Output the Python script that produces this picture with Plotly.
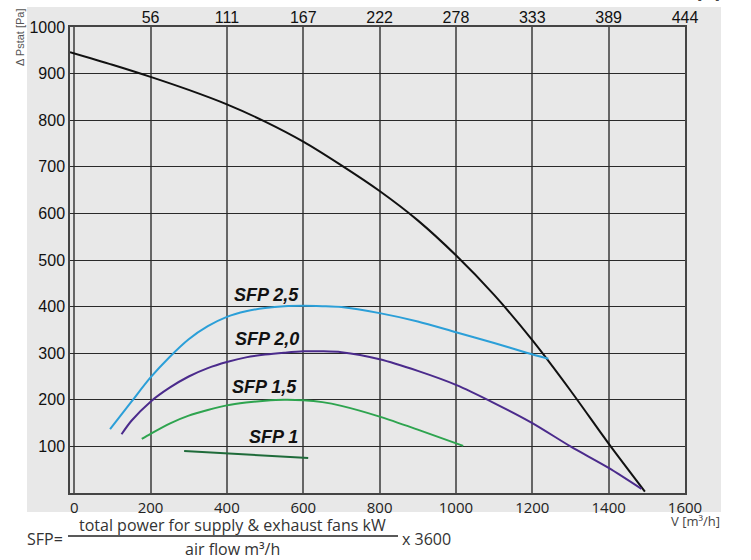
import plotly.graph_objects as go

# ---- data ----
fan_x = [-11, 100, 200, 300, 400, 500, 600, 700, 800, 900, 1000, 1100, 1200, 1300, 1400, 1495]
fan_y = [946, 919, 893, 865, 834, 797, 754, 703, 648, 585, 510, 425, 328, 220, 106, 3]

sfp25_x = [94, 150, 200, 250, 300, 350, 400, 450, 500, 550, 600, 650, 700, 800, 900, 1000, 1100, 1185, 1242]
sfp25_y = [137, 196, 248, 292, 330, 358, 378, 390, 397, 401, 402, 401, 399, 386, 368, 345, 322, 301, 288]

sfp20_x = [124, 150, 200, 250, 300, 350, 400, 450, 500, 550, 600, 650, 700, 800, 900, 1000, 1100, 1200, 1300, 1400, 1486]
sfp20_y = [126, 155, 196, 226, 250, 268, 281, 291, 297, 301, 304, 304, 302, 287, 262, 232, 193, 150, 100, 54, 9]

sfp15_x = [177, 200, 250, 300, 350, 400, 450, 500, 550, 600, 650, 700, 800, 900, 1019]
sfp15_y = [116, 127, 149, 166, 178, 188, 194, 198, 200, 199, 195, 187, 164, 136, 101]

sfp10_x = [288, 613]
sfp10_y = [90, 75]

labels = ["SFP 2,5", "SFP 2,0", "SFP 1,5", "SFP 1"]
label_x = [594, 594, 590, 592]
label_y = [425, 330, 228, 121]

x_ticks = [0, 200, 400, 600, 800, 1000, 1200, 1400, 1600]
y_ticks = [100, 200, 300, 400, 500, 600, 700, 800, 900, 1000]
top_ticks = [200, 400, 600, 800, 1000, 1200, 1400, 1600]
top_text = ["56", "111", "167", "222", "278", "333", "389", "444"]

# ---- layout geometry ----
W, H = 751, 560
ML, MR, MT, MB = 70, 66, 27, 67
PW, PH = W - ML - MR, H - MT - MB


def px(x):
    return (x - ML) / PW


def py(y):
    return (H - MB - y) / PH


GRAY = "#e8e8e8"
ARIAL = "Liberation Sans, Arial, sans-serif"
OPEN = "Open Sans, sans-serif"

fig = go.Figure()

fig.add_trace(go.Scatter(x=fan_x, y=fan_y, mode="lines", line_shape="spline",
                         line=dict(color="#111111", width=2, smoothing=0.8), hoverinfo="skip"))
fig.add_trace(go.Scatter(x=sfp25_x, y=sfp25_y, mode="lines", line_shape="spline",
                         line=dict(color="#2b9fd8", width=2, smoothing=0.8), hoverinfo="skip"))
fig.add_trace(go.Scatter(x=sfp20_x, y=sfp20_y, mode="lines", line_shape="spline",
                         line=dict(color="#4b2b8c", width=2, smoothing=0.8), hoverinfo="skip"))
fig.add_trace(go.Scatter(x=sfp15_x, y=sfp15_y, mode="lines", line_shape="spline",
                         line=dict(color="#2ea44f", width=2, smoothing=0.8), hoverinfo="skip"))
fig.add_trace(go.Scatter(x=sfp10_x, y=sfp10_y, mode="lines",
                         line=dict(color="#1f6b3a", width=2), hoverinfo="skip"))
# carrier trace for the top (l/s) axis
fig.add_trace(go.Scatter(x=[top_ticks[0]], y=[y_ticks[0]], xaxis="x2", mode="markers",
                         marker=dict(opacity=0), hoverinfo="skip"))

annotations = []
for t, lx, ly in zip(labels, label_x, label_y):
    annotations.append(dict(x=lx, y=ly, xref="x", yref="y", text="<b><i>%s</i></b>" % t,
                            showarrow=False, xanchor="right", yanchor="middle",
                            font=dict(family=ARIAL, size=18, color="#111111")))

annotations += [
    dict(x=px(20), y=py(37), xref="paper", yref="paper", text="Δ Pstat [Pa]",
         textangle=-90, showarrow=False, xanchor="center", yanchor="middle",
         font=dict(family=ARIAL, size=11, color="#555555")),
    dict(x=px(722), y=py(521), xref="paper", yref="paper", text="V [m³/h]",
         showarrow=False, xanchor="right", yanchor="middle",
         font=dict(family=OPEN, size=13, color="#444444")),
    dict(x=px(722), y=py(5), xref="paper", yref="paper", text="V [l/s]",
         showarrow=False, xanchor="right", yanchor="bottom",
         font=dict(family=OPEN, size=13, color="#444444")),
    dict(x=px(25), y=py(539), xref="paper", yref="paper", text="SFP=",
         showarrow=False, xanchor="left", yanchor="middle",
         font=dict(family=OPEN, size=16, color="#333333")),
    dict(x=px(233), y=py(525), xref="paper", yref="paper",
         text="total power for supply &amp; exhaust fans kW",
         showarrow=False, xanchor="center", yanchor="middle",
         font=dict(family=OPEN, size=16, color="#333333")),
    dict(x=px(233), y=py(549), xref="paper", yref="paper", text="air flow m³/h",
         showarrow=False, xanchor="center", yanchor="middle",
         font=dict(family=OPEN, size=16, color="#333333")),
    dict(x=px(400), y=py(539), xref="paper", yref="paper", text="x 3600",
         showarrow=False, xanchor="left", yanchor="middle",
         font=dict(family=OPEN, size=16, color="#333333")),
]

shapes = [
    dict(type="rect", xref="paper", yref="paper", x0=px(27), x1=px(721),
         y0=py(512), y1=py(7), fillcolor=GRAY, line=dict(width=0), layer="below"),
    dict(type="line", xref="paper", yref="paper", x0=px(68), x1=px(398),
         y0=py(536), y1=py(536), line=dict(color="#222222", width=1.5)),
]

fig.update_layout(
    width=W, height=H,
    margin=dict(l=ML, r=MR, t=MT, b=MB, autoexpand=False),
    paper_bgcolor="white", plot_bgcolor=GRAY,
    showlegend=False,
    xaxis=dict(range=[-11, 1600], tickmode="array", tickvals=x_ticks,
               showgrid=True, gridcolor="#666666", gridwidth=1.5,
               zeroline=False, showline=True, linecolor="#444444", linewidth=1.5,
               mirror=True, ticks="", ticklabelstandoff=0, automargin=False,
               tickfont=dict(family=OPEN, size=15, color="#222222")),
    xaxis2=dict(range=[-11, 1600], overlaying="x", side="top", tickmode="array",
                tickvals=top_ticks, ticktext=top_text, showgrid=False,
                zeroline=False, showline=False, ticks="", automargin=False,
                tickfont=dict(family=ARIAL, size=16, color="#111111")),
    yaxis=dict(range=[0, 1000], tickmode="array", tickvals=y_ticks,
               showgrid=True, gridcolor="#2a2a2a", gridwidth=1.3,
               zeroline=False, showline=True, linecolor="#444444", linewidth=1.5,
               mirror=True, ticks="", automargin=False,
               tickfont=dict(family=ARIAL, size=16, color="#111111")),
    annotations=annotations,
    shapes=shapes,
)

fig.write_html("out.html", config={"displayModeBar": False},
               post_script="document.body.style.margin='0px';document.body.style.padding='0px';")
